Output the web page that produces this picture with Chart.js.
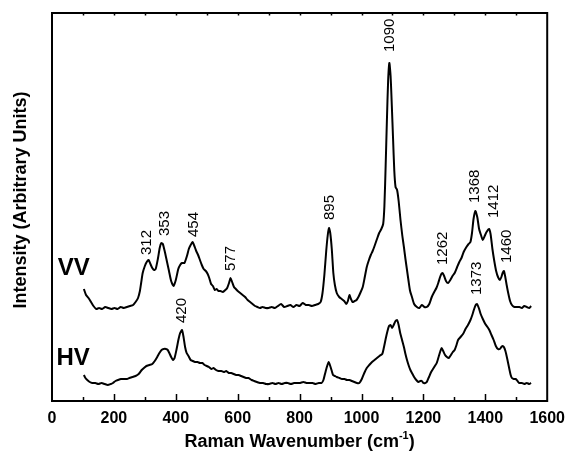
<!DOCTYPE html>
<html>
<head>
<meta charset="utf-8">
<script src="https://cdn.jsdelivr.net/npm/chart.js@4.4.1/dist/chart.umd.min.js"></script>
<style>
  html, body { margin: 0; padding: 0; background: #fff; }
  #wrap { width: 573px; height: 456px; }
</style>
</head>
<body>
<div id="wrap"><canvas id="ramanChart" width="573" height="456"></canvas></div>
<script>
// VV polarised spectrum (wavenumber in cm-1, intensity in arbitrary units)
const vvWavenumber = [103,110,118,126,134,143,152,162,172,182,192,202,212,222,232,242,252,262,270,278,284,288,293,300,306,312,318,324,330,335,342,348,353,358,364,371,378,385,393,400,408,414,420,428,436,442,448,454,460,466,472,478,484,490,497,503,508,514,520,526,532,538,544,552,560,566,572,577,582,588,594,600,608,616,624,632,640,648,656,664,672,680,690,700,710,720,730,740,750,760,770,780,790,800,810,820,830,840,850,860,868,874,880,886,891,895,899,904,909,914,920,928,936,944,951,956,961,966,971,978,984,990,996,1004,1010,1017,1024,1030,1036,1041,1050,1057,1064,1070,1074,1078,1082,1086,1090,1094,1098,1102,1106,1110,1115,1120,1126,1132,1137,1142,1147,1152,1157,1163,1170,1179,1187,1195,1203,1211,1219,1227,1235,1242,1248,1254,1258,1262,1267,1273,1280,1287,1294,1301,1309,1316,1323,1330,1339,1346,1352,1357,1362,1368,1374,1380,1386,1392,1398,1404,1412,1417,1423,1429,1435,1441,1447,1452,1456,1460,1464,1469,1474,1480,1486,1494,1502,1510,1518,1526,1534,1542,1548];
const vvIntensity = [112,106,103,99,95,92,93,92,94,93,92,93,92,94,93,94,95,96,99,103,110,118,128,135,139,141,137,133,131,132,142,153,158,157,150,140,130,120,115,121,132,136,138,138,145,152,156,159,155,150,146,141,136,132,130,127,123,117,115,111,112,110,110,109,111,113,118,123,119,114,112,110,108,106,104,101,99,97,95,94,93,94,93,93,94,93,95,97,94,95,96,94,96,95,98,96,96,95,96,97,99,108,126,150,166,173,168,152,128,116,108,104,102,100,97,100,106,102,99,100,101,104,108,114,123,134,141,146,150,154,162,168,172,177,195,235,280,320,338,325,295,262,230,214,211,200,181,165,154,142,131,120,110,104,97,94,93,96,94,94,97,104,109,113,118,124,127,128,125,120,118,121,125,128,134,139,143,149,154,157,159,168,182,190,184,172,166,161,165,169,172,167,152,140,130,124,121,124,128,130,125,116,108,100,96,94,94,94,93,95,94,93,95];

// HV depolarised spectrum
const hvWavenumber = [103,108,114,122,130,140,150,160,170,180,190,197,205,213,223,232,242,250,260,270,280,290,297,305,315,324,332,340,347,354,361,368,374,379,385,391,396,402,409,414,420,425,430,435,441,448,455,462,470,478,486,493,500,507,515,522,530,538,547,555,563,571,579,587,595,603,611,619,627,635,645,653,662,672,682,692,702,712,722,732,742,752,762,772,782,792,802,812,822,832,842,852,862,871,877,882,888,894,899,904,908,914,920,929,937,945,953,961,969,977,985,993,1001,1009,1017,1025,1034,1042,1050,1058,1067,1072,1078,1084,1089,1094,1099,1104,1110,1115,1120,1125,1131,1137,1142,1147,1153,1158,1163,1170,1177,1184,1190,1195,1200,1206,1211,1218,1225,1231,1237,1243,1250,1255,1259,1264,1270,1276,1282,1289,1295,1301,1307,1312,1320,1328,1336,1344,1352,1358,1364,1369,1373,1379,1385,1392,1400,1407,1413,1420,1427,1434,1441,1447,1452,1456,1460,1465,1471,1477,1482,1486,1492,1498,1504,1510,1518,1526,1534,1542,1548];
const hvIntensity = [26,23,21,19,18,18,17,18,17,16,17,18,20,21,22,22,22,23,24,25,27,31,33,35,36,37,40,44,48,51,52,52,51,48,44,41,43,51,62,68,71,64,54,48,45,41,40,39,39,38,38,36,35,34,32,33,31,30,30,29,30,28,28,27,26,26,25,24,23,23,21,20,19,18,18,17,17,18,17,18,17,18,18,17,18,18,18,19,18,18,18,17,18,18,21,27,34,39,35,30,26,25,24,23,22,22,21,21,20,19,18,18,22,28,33,36,39,41,43,45,47,53,62,70,75,76,73,76,80,81,76,68,61,54,47,41,35,31,28,24,21,19,20,20,18,18,19,24,29,32,35,38,45,50,53,50,46,44,43,46,49,51,56,61,64,67,72,76,81,86,92,96,97,93,87,82,77,74,71,66,61,55,52,52,54,55,54,50,42,33,26,23,22,22,20,18,18,17,18,17,18];

// Peak annotations: text, anchor wavenumber, intensity at the foot of the text
const peakLabels = ['312', '353', '454', '577', '895', '1090', '1262', '1368', '1412', '1460', '420', '1373'];
const peakLabelX = [308, 364, 457, 579, 898, 1092, 1262, 1365, 1427, 1471, 420, 1374];
const peakLabelY = [146, 165, 164, 130, 181, 349, 136, 198, 183, 138, 78, 106];

const seriesNames = ['VV', 'HV'];
const seriesNameY = [126, 36];

const xTickValues = [0, 200, 400, 600, 800, 1000, 1200, 1400, 1600];

const FONT = '"Liberation Sans", Arial, sans-serif';

function toPoints(xs, ys) {
    return xs.map((x, i) => ({ x: x, y: ys[i] }));
}

const decorations = {
    id: 'decorations',
    afterDraw(chart) {
        const ctx = chart.ctx;
        const area = chart.chartArea;
        const xs = chart.scales.x;
        const ys = chart.scales.y;

        ctx.save();
        ctx.strokeStyle = '#000';
        ctx.fillStyle = '#000';

        // frame
        ctx.lineWidth = 2;
        ctx.strokeRect(area.left, area.top, area.right - area.left, area.bottom - area.top);

        // inward ticks, long on the bottom every 200, short otherwise
        ctx.lineWidth = 1.5;
        for (let v = 100; v < 1600; v += 100) {
            const px = Math.round(xs.getPixelForValue(v)) + 0.5;
            const len = (v % 200 === 0) ? 7 : 4;
            ctx.beginPath();
            ctx.moveTo(px, area.bottom);
            ctx.lineTo(px, area.bottom - len);
            ctx.moveTo(px, area.top);
            ctx.lineTo(px, area.top + 2.5);
            ctx.stroke();
        }

        // peak positions, rotated
        ctx.font = '15px ' + FONT;
        ctx.textAlign = 'left';
        ctx.textBaseline = 'middle';
        peakLabels.forEach((t, i) => {
            ctx.save();
            ctx.translate(xs.getPixelForValue(peakLabelX[i]), ys.getPixelForValue(peakLabelY[i]));
            ctx.rotate(-Math.PI / 2);
            ctx.fillText(t, 0, 0);
            ctx.restore();
        });

        // series names
        ctx.font = 'bold 24px ' + FONT;
        ctx.textAlign = 'right';
        ctx.textBaseline = 'alphabetic';
        seriesNames.forEach((t, i) => {
            ctx.fillText(t, xs.getPixelForValue(122), ys.getPixelForValue(seriesNameY[i]));
        });

        // y axis title
        ctx.save();
        ctx.font = 'bold 18px ' + FONT;
        ctx.textAlign = 'center';
        ctx.textBaseline = 'middle';
        ctx.translate(21, 200);
        ctx.rotate(-Math.PI / 2);
        ctx.fillText('Intensity (Arbitrary Units)', 0, 0);
        ctx.restore();

        // x axis title with superscript
        const main = 'Raman Wavenumber (cm';
        const sup = '-1';
        const tail = ')';
        ctx.font = 'bold 18px ' + FONT;
        const wMain = ctx.measureText(main).width;
        const wTail = ctx.measureText(tail).width;
        ctx.font = 'bold 11px ' + FONT;
        const wSup = ctx.measureText(sup).width;
        const cx = (area.left + area.right) / 2;
        let x0 = cx - (wMain + wSup + wTail) / 2;
        const base = 447;
        ctx.textAlign = 'left';
        ctx.font = 'bold 18px ' + FONT;
        ctx.fillText(main, x0, base);
        ctx.font = 'bold 11px ' + FONT;
        ctx.fillText(sup, x0 + wMain, base - 8);
        ctx.font = 'bold 18px ' + FONT;
        ctx.fillText(tail, x0 + wMain + wSup, base);

        ctx.restore();
    }
};

const ctx = document.getElementById('ramanChart').getContext('2d');
const chart = new Chart(ctx, {
    type: 'line',
    data: {
        datasets: [
            {
                label: 'VV',
                data: toPoints(vvWavenumber, vvIntensity),
                borderColor: '#000',
                borderWidth: 2,
                pointRadius: 0,
                tension: 0.2,
                fill: false
            },
            {
                label: 'HV',
                data: toPoints(hvWavenumber, hvIntensity),
                borderColor: '#000',
                borderWidth: 2,
                pointRadius: 0,
                tension: 0.2,
                fill: false
            }
        ]
    },
    options: {
        responsive: false,
        animation: false,
        devicePixelRatio: 1,
        layout: { padding: { top: 13, right: 19, left: 0, bottom: 0 } },
        plugins: {
            legend: { display: false },
            tooltip: { enabled: false }
        },
        scales: {
            x: {
                type: 'linear',
                min: 0,
                max: 1600,
                afterFit(scale) { scale.height = 55; },
                afterBuildTicks(scale) {
                    scale.ticks = xTickValues.map(v => ({ value: v }));
                },
                border: { display: false },
                grid: { display: false, drawTicks: false },
                ticks: {
                    color: '#000',
                    font: { family: FONT, size: 16, weight: 'bold' },
                    maxRotation: 0,
                    padding: 8,
                    callback: v => String(v)
                }
            },
            y: {
                type: 'linear',
                min: 0,
                max: 388,
                afterFit(scale) { scale.width = 52; },
                border: { display: false },
                grid: { display: false, drawTicks: false },
                ticks: { display: false }
            }
        }
    },
    plugins: [decorations]
});
</script>
</body>
</html>
